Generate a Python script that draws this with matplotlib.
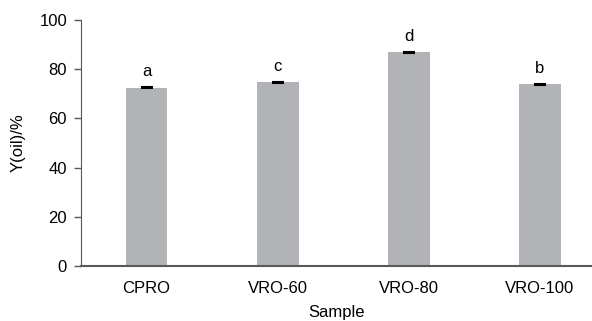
import matplotlib.pyplot as plt

plt.rcParams['font.family'] = ['Liberation Sans', 'DejaVu Sans']

samples = ["CPRO", "VRO-60", "VRO-80", "VRO-100"]
oil_yield = [72.5, 74.7, 86.8, 73.8]
errors = [0.3, 0.3, 0.3, 0.3]
letters = ["a", "c", "d", "b"]

fs = 12

fig = plt.figure(figsize=(5.92, 3.21), dpi=100)
ax = fig.add_axes([81 / 592, 55 / 321, 1 - 81 / 592, 246 / 321])

x = range(len(samples))
ax.bar(x, oil_yield, width=0.32, color="#b2b3b6", zorder=2)
ax.errorbar(x, oil_yield, yerr=errors, fmt="none", ecolor="black",
            elinewidth=2, capsize=4, capthick=1.5, zorder=3)

for i, (v, lab) in enumerate(zip(oil_yield, letters)):
    ax.text(i, v + 3.5, lab, ha="center", va="bottom", fontsize=fs)

ax.set_xlim(-0.5, 3.40)
ax.set_ylim(0, 100)
ax.set_yticks([0, 20, 40, 60, 80, 100])
ax.set_xticks(list(x))
ax.set_xticklabels(samples)
ax.tick_params(axis="x", length=0, pad=11, labelsize=fs)
ax.tick_params(axis="y", length=5, width=1, color="#595959", direction="out", labelsize=fs, pad=5)

for s in ["top", "right"]:
    ax.spines[s].set_visible(False)
ax.spines["left"].set_color("#595959")
ax.spines["bottom"].set_color("#595959")
ax.spines["bottom"].set_linewidth(1.5)

ax.set_ylabel("Y(oil)/%", fontsize=fs, labelpad=10)
ax.set_xlabel("Sample", fontsize=fs, labelpad=6)

fig.savefig("out.png", dpi=100)
